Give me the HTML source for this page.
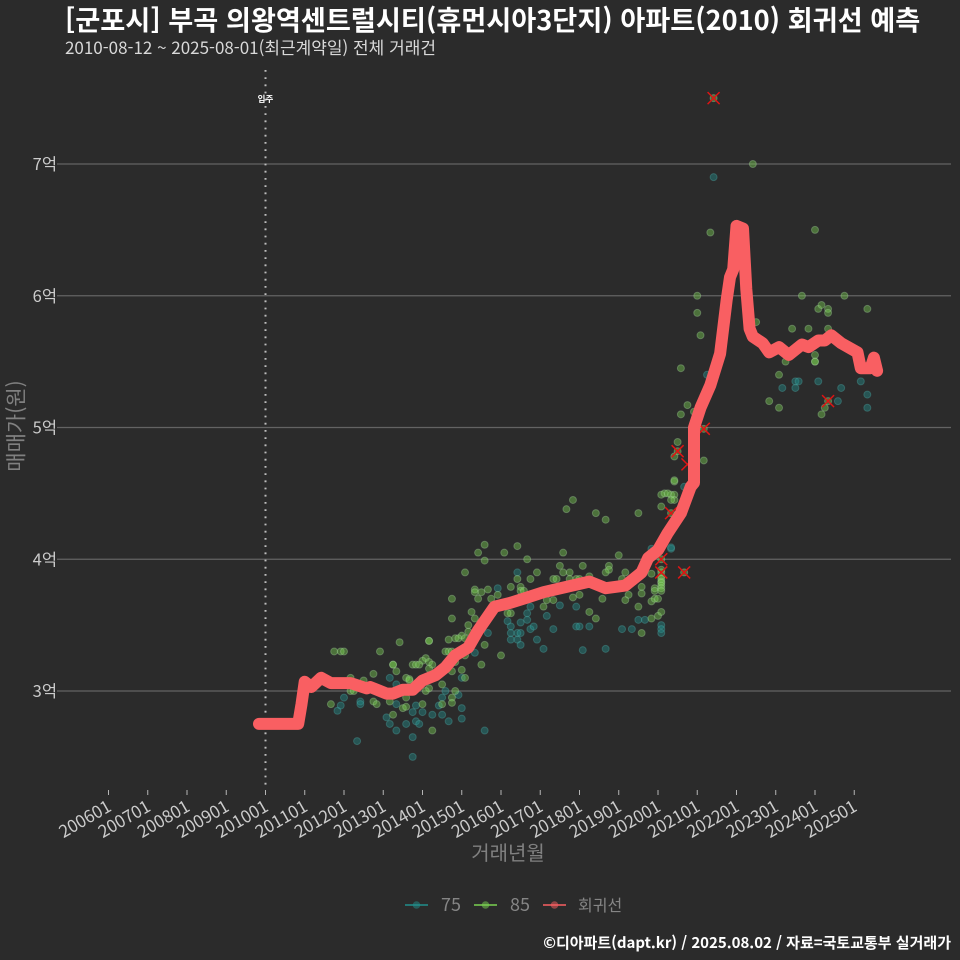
<!DOCTYPE html>
<html lang="ko">
<head>
<meta charset="utf-8">
<title>부곡 의왕역센트럴시티 회귀선 예측</title>
<style>
html,body{margin:0;padding:0;background:#2b2b2b;}
svg{display:block;}
text{font-family:"Noto Sans CJK KR","Liberation Sans",sans-serif;}
</style>
</head>
<body>
<svg id="chart" xmlns="http://www.w3.org/2000/svg" width="960" height="960" viewBox="0 0 960 960">
  <rect x="0" y="0" width="960" height="960" fill="#2b2b2b"/>
  <text x="65" y="30" font-size="27.2" font-weight="700" fill="#ffffff">[군포시] 부곡 의왕역센트럴시티(휴먼시아3단지) 아파트(2010) 회귀선 예측</text>
  <text x="65" y="54" font-size="17" fill="#d9d9d9">2010-08-12 ~ 2025-08-01(최근계약일) 전체 거래건</text>
  <g id="grid"></g>
  <g id="xaxis"></g>
  <g id="yaxis"></g>
  <line x1="265.5" y1="70" x2="265.5" y2="790" stroke="#bdbdbd" stroke-width="2" stroke-dasharray="1.8 5.4"/>
  <text x="265.5" y="102" font-size="8.5" font-weight="700" text-anchor="middle" fill="#ffffff">입주</text>
  <g id="points75"></g>
  <g id="points85"></g>
  <g id="outliers"></g>
  <path id="regline" fill="none" stroke="#f95f62" stroke-width="12" stroke-linecap="round" stroke-linejoin="round"/>
  <text x="508" y="860" font-size="20" text-anchor="middle" fill="#808080">거래년월</text>
  <text transform="translate(23.5,426) rotate(-90)" font-size="21" text-anchor="middle" fill="#808080">매매가(원)</text>
  <g>
    <g>
      <line x1="405" y1="905" x2="428" y2="905" stroke="#21908c" stroke-width="1.6"/>
      <circle cx="416.5" cy="905" r="3.8" fill="#21908c" fill-opacity="0.5"/>
      <text x="441" y="911" font-size="18" fill="#858585">75</text>
    </g>
    <g>
      <line x1="474" y1="905" x2="497" y2="905" stroke="#7ad151" stroke-width="1.6"/>
      <circle cx="485.5" cy="905" r="3.8" fill="#7ad151" fill-opacity="0.5"/>
      <text x="510" y="911" font-size="18" fill="#858585">85</text>
    </g>
    <g>
      <line x1="543" y1="905" x2="566" y2="905" stroke="#f95f62" stroke-width="1.6"/>
      <circle cx="554.5" cy="905" r="3.8" fill="#f95f62" fill-opacity="0.5"/>
      <text x="578" y="911" font-size="16" fill="#858585">회귀선</text>
    </g>
  </g>
  <text x="951" y="948" font-size="15" font-weight="700" text-anchor="end" fill="#ffffff">©디아파트(dapt.kr) / 2025.08.02 / 자료=국토교통부 실거래가</text>
</svg>
<script>
const xTickLabels = ["200601","200701","200801","200901","201001","201101","201201","201301","201401","201501","201601","201701","201801","201901","202001","202101","202201","202301","202401","202501"];
const yTickValues = [3,4,5,6,7];

const months75 = [201205,201310,201310,201508,201305,201303,201302,201308,201311,201312,201310,201401,201311,201305,201303,201305,201404,201407,201406,201407,201409,201501,201501,201412,201408,201111,201112,201201,201206,201206,201501,201505,201509,201512,
  201606,201603,201604,201604,201604,201606,201607,201606,201607,201607,201609,201609,201610,201610,201611,201612,201702,201703,201705,201707,201712,201712,201801,201804,201802,201809,201902,201905,201907,201909,202002,202002,202002,202005,202005,201911,202009,
  202106,202104,202303,202307,202308,202307,202402,202409,202408,202503,202505,202505];
const prices75 = [2.62,2.50,2.65,2.70,2.70,2.75,2.80,2.75,2.77,2.75,2.84,2.84,2.89,2.90,3.10,3.05,2.82,2.82,2.89,2.95,2.77,2.87,2.79,2.97,3.00,2.85,2.89,2.95,2.92,2.90,3.10,3.29,3.44,3.78,
  3.90,3.53,3.49,3.44,3.39,3.44,3.44,3.39,3.35,3.52,3.59,3.54,3.64,3.47,3.49,3.39,3.32,3.57,3.47,3.65,3.64,3.49,3.49,3.49,3.31,3.32,3.47,3.47,3.54,3.54,3.50,3.47,3.44,4.08,4.09,4.08,4.55,
  6.90,5.40,5.30,5.35,5.35,5.30,5.35,5.30,5.20,5.35,5.25,5.15];

const months85 = [201110,201112,201201,201212,201306,201403,201403,201502,201508,201410,201410,201505,201505,201507,201509,201506,201510,201512,201504,201505,201503,201503,201501,201411,201412,201502,201409,201508,201408,201409,201410,201502,201507,201601,201402,201401,201403,201404,201403,201310,201311,201312,201304,201304,201305,201210,201203,201207,201308,201309,201309,201411,201410,201501,201502,201407,201403,201402,201203,201204,201308,201210,201211,201109,201303,201307,201308,201401,201407,201410,201410,201411,201304,201404,
  201506,201508,201602,201606,201609,201604,201606,201607,201607,201608,201610,201612,201707,201708,201710,201710,201705,201706,201802,201708,201711,201709,201806,201809,201907,201901,201810,201810,201809,201903,201902,201712,201801,201804,201711,201801,201702,201703,201705,201604,201603,201808,201804,201806,201907,201904,201903,201908,201908,201908,201911,202001,202002,201911,201912,202001,201912,201912,
  202002,202002,202002,202002,202002,202002,202002,202002,202002,202002,202005,202006,202006,202002,202005,202002,202004,202006,201911,202007,202006,202007,202006,202003,202004,202005,202103,
  202106,202206,202105,202401,202101,202101,202309,202410,202402,202403,202405,202405,202505,202102,202207,202306,202311,202405,202401,202401,202401,202304,202302,202211,202302,202010,202012,202008,202008,202103,202404,202403,202405,202009];
const prices85 = [3.30,3.30,3.30,3.30,3.37,3.38,3.38,3.90,3.99,3.70,3.55,3.77,3.75,3.75,3.77,3.70,3.70,3.73,3.60,3.55,3.50,3.45,3.42,3.40,3.40,3.40,3.39,3.35,3.30,3.30,3.30,3.27,3.20,3.27,3.25,3.23,3.22,3.20,3.17,3.20,3.20,3.20,3.20,3.20,3.15,3.13,3.10,3.08,3.10,3.08,3.09,3.22,3.15,3.16,3.10,3.05,3.02,3.00,3.00,3.00,2.95,2.92,2.90,2.90,2.92,2.87,2.88,2.90,2.90,2.95,2.91,3.00,2.82,2.70,
  4.05,4.11,4.05,4.10,4.00,3.79,3.85,3.79,3.76,3.76,3.85,3.90,3.95,3.90,3.90,3.85,3.85,3.85,3.95,4.05,4.45,4.38,4.35,4.30,4.35,4.03,3.95,3.92,3.90,3.90,3.85,3.85,3.85,3.87,3.71,3.73,3.64,3.69,3.69,3.59,3.59,3.70,3.60,3.55,3.64,3.73,3.69,3.79,3.74,3.44,3.55,3.57,3.60,3.68,3.70,3.70,3.78,3.76,
  3.92,3.90,3.87,3.85,3.83,3.82,3.80,3.78,3.76,4.00,4.49,4.49,4.45,4.49,4.35,4.40,4.21,4.59,3.89,4.82,4.78,4.89,4.60,4.50,4.50,4.45,4.75,
  7.50,7.00,6.48,6.50,6.00,5.87,6.00,6.00,5.90,5.93,5.90,5.87,5.90,5.70,5.80,5.75,5.75,5.75,5.55,5.50,5.50,5.50,5.40,5.20,5.15,5.17,5.12,5.10,5.45,4.99,5.15,5.10,5.20,3.90];

const lineMonths = [200911,201011,201012,201101,201103,201106,201109,201203,201208,201209,201302,201304,201307,201310,201401,201405,201408,201411,201503,201506,201511,201604,201609,201702,201709,201804,201809,201903,201908,201910,202001,202004,202008,202011,202012,202012,202102,202105,202108,202110,202111,202112,202201,202203,202204,202205,202206,202209,202211,202302,202305,202309,202311,202402,202404,202406,202409,202502,202503,202506,202507,202508];
const linePrices = [2.75,2.75,2.90,3.07,3.03,3.10,3.06,3.06,3.02,3.03,2.98,2.98,3.01,3.01,3.08,3.12,3.18,3.27,3.33,3.46,3.64,3.67,3.71,3.75,3.79,3.83,3.78,3.80,3.90,4.01,4.07,4.20,4.35,4.55,4.58,5.00,5.15,5.32,5.56,5.97,6.14,6.20,6.53,6.51,6.05,5.75,5.69,5.64,5.57,5.61,5.55,5.63,5.61,5.66,5.66,5.70,5.64,5.57,5.45,5.45,5.53,5.43];

const outlierMonths = [202106,202007,202005,202103,202010,202002,202002,202009,202405];
const outlierPrices = [7.50,4.82,4.35,4.99,4.72,4.00,3.90,3.90,5.20];

const NS = "http://www.w3.org/2000/svg";
function xScale(yyyymm){
  const y = Math.floor(yyyymm / 100), m = yyyymm % 100;
  return 108.5 + ((y - 2006) * 12 + (m - 1)) * 3.2708;
}
function yScale(v){ return 691 - (v - 3) * 131.75; }
function mk(tag, parent){
  const el = document.createElementNS(NS, tag);
  parent.appendChild(el);
  return el;
}

const grid = document.getElementById("grid");
const yaxis = document.getElementById("yaxis");
yTickValues.forEach(v => {
  const g = mk("line", grid);
  
  
  g.setAttribute("x1", 57); g.setAttribute("x2", 951);
  g.setAttribute("y1", yScale(v)); g.setAttribute("y2", yScale(v));
  g.setAttribute("stroke", "#636363"); g.setAttribute("stroke-width", 1.2);
  const t = mk("text", yaxis);
  
  
  t.setAttribute("x", 57); t.setAttribute("y", yScale(v) + 6);
  t.setAttribute("font-size", 16.5); t.setAttribute("text-anchor", "end"); t.setAttribute("fill", "#cccccc");
  t.textContent = v + "억";
});

const xaxis = document.getElementById("xaxis");
xTickLabels.forEach(lbl => {
  const x = xScale(+lbl);
  const tick = mk("line", xaxis);
  
  
  tick.setAttribute("x1", x); tick.setAttribute("x2", x);
  tick.setAttribute("y1", 790); tick.setAttribute("y2", 795);
  tick.setAttribute("stroke", "#b5b5b5"); tick.setAttribute("stroke-width", 1);
  const t = mk("text", xaxis);
  
  
  t.setAttribute("transform", "translate(" + (x + 4) + ",810) rotate(-30)");
  t.setAttribute("font-size", 17); t.setAttribute("text-anchor", "end"); t.setAttribute("fill", "#cccccc");
  t.textContent = lbl;
});

function drawPoints(id, months, prices, color, ring, name){
  const parent = document.getElementById(id);
  months.forEach((mo, i) => {
    const c = mk("circle", parent);
    
    
    c.setAttribute("cx", xScale(mo)); c.setAttribute("cy", yScale(prices[i]));
    c.setAttribute("r", 3.5);
    c.setAttribute("fill", color); c.setAttribute("fill-opacity", 0.42);
    c.setAttribute("stroke", ring); c.setAttribute("stroke-opacity", 0.35); c.setAttribute("stroke-width", 1);
  });
}
drawPoints("points75", months75, prices75, "#21908c", "#4fb0ac", "point-75");
drawPoints("points85", months85, prices85, "#7ad151", "#a8d8a0", "point-85");

const outliers = document.getElementById("outliers");
outlierMonths.forEach((mo, i) => {
  const cx = xScale(mo), cy = yScale(outlierPrices[i]), s = 6;
  const p = mk("path", outliers);
  
  
  p.setAttribute("d", "M" + (cx - s) + " " + (cy - s) + "L" + (cx + s) + " " + (cy + s) + "M" + (cx - s) + " " + (cy + s) + "L" + (cx + s) + " " + (cy - s));
  p.setAttribute("stroke", "#e01414"); p.setAttribute("stroke-width", 1.5); p.setAttribute("fill", "none");
});

document.getElementById("regline").setAttribute("d",
  lineMonths.map((mo, i) => (i ? "L" : "M") + xScale(mo).toFixed(1) + " " + yScale(linePrices[i]).toFixed(1)).join(""));
</script>
</body>
</html>
